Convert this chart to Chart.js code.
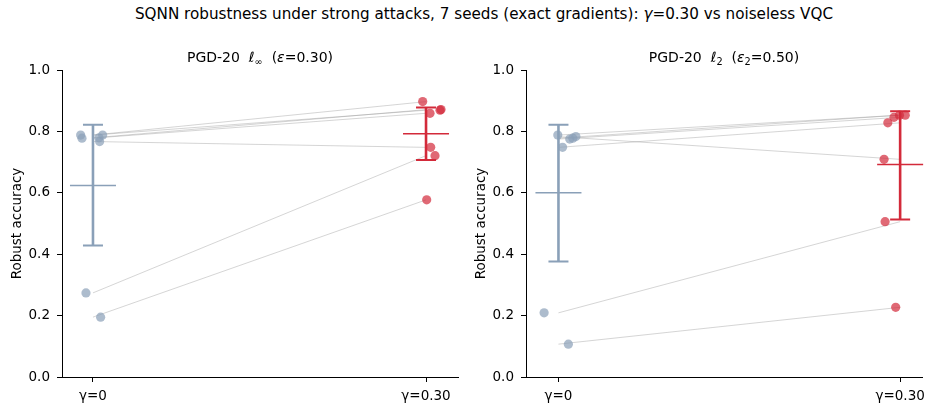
<!DOCTYPE html>
<html lang="en">
<head>
<meta charset="UTF-8">
<title>SQNN robustness under strong attacks</title>
<script src="https://cdn.jsdelivr.net/npm/chart.js"></script>
<style>
  body { margin: 0; background: #fff; }
  #wrap { position: relative; width: 927px; height: 403px; font-family: "DejaVu Sans", sans-serif; }
  #wrap canvas { position: absolute; left: 0; top: 0; }
  #suptitle { position: absolute; top: 5px; left: 0; width: 968px; text-align: center; font-size: 15.2px; color: #000; }
</style>
</head>
<body>
<div id="wrap">
  <div id="suptitle">SQNN robustness under strong attacks, 7 seeds (exact gradients): <i>γ</i>=0.30 vs noiseless VQC</div>
  <canvas id="chartLinf" width="927" height="403"></canvas>
  <canvas id="chartL2" width="927" height="403"></canvas>
</div>

<script>
// categories and ticks
const groupLabels = ['γ=0', 'γ=0.30'];
const yTicks = [0, 0.2, 0.4, 0.6, 0.8, 1.0];

// PGD-20 l_inf (eps=0.30): one value per seed, same seed order in both groups
const linfNoiseless = [0.788, 0.778, 0.779, 0.788, 0.767, 0.274, 0.195];
const linfNoiselessJitter = [-0.037, -0.033, 0.018, 0.029, 0.020, -0.021, 0.023];
const linfSqnn = [0.897, 0.859, 0.871, 0.869, 0.748, 0.721, 0.577];
const linfSqnnJitter = [-0.010, 0.012, 0.045, 0.042, 0.014, 0.027, 0.002];
const linfMean = [0.624, 0.792];
const linfLow = [0.428, 0.707];
const linfHigh = [0.822, 0.878];

// PGD-20 l_2 (eps2=0.50)
const l2Noiseless = [0.788, 0.748, 0.775, 0.778, 0.783, 0.209, 0.107];
const l2NoiselessJitter = [-0.002, 0.012, 0.033, 0.042, 0.051, -0.042, 0.029];
const l2Sqnn = [0.853, 0.828, 0.846, 0.853, 0.709, 0.506, 0.227];
const l2SqnnJitter = [0.015, -0.036, -0.018, -0.002, -0.047, -0.044, -0.013];
const l2Mean = [0.600, 0.692];
const l2Low = [0.376, 0.513];
const l2High = [0.822, 0.866];

const FONT = '"DejaVu Sans", sans-serif';
const BLUE = '#8aa0b8';
const RED = '#d32a3a';

// mean line + CI whiskers, drawn through the chart scales
const meanCI = {
  id: 'meanCI',
  afterDatasetsDraw(chart, args, opts) {
    const {ctx, scales: {x, y}} = chart;
    ctx.save();
    opts.mean.forEach((m, i) => {
      const px = x.getPixelForValue(i);
      const top = y.getPixelForValue(opts.high[i]);
      const bot = y.getPixelForValue(opts.low[i]);
      const pm = y.getPixelForValue(m);
      ctx.strokeStyle = opts.colors[i];
      ctx.lineWidth = 2.6;
      ctx.beginPath(); ctx.moveTo(px, top); ctx.lineTo(px, bot); ctx.stroke();
      ctx.lineWidth = 2;
      ctx.beginPath();
      ctx.moveTo(px - 10, top); ctx.lineTo(px + 10, top);
      ctx.moveTo(px - 10, bot); ctx.lineTo(px + 10, bot);
      ctx.stroke();
      ctx.lineWidth = 1.5;
      ctx.beginPath(); ctx.moveTo(px - 23, pm); ctx.lineTo(px + 23, pm); ctx.stroke();
    });
    ctx.restore();
  }
};

// axes title with italic symbols and subscripts
const mathTitle = {
  id: 'mathTitle',
  afterDraw(chart, args, opts) {
    const {ctx, chartArea} = chart;
    const size = 14;
    const fontFor = s => (s.it ? 'italic ' : '') + (s.sub ? size * 0.7 : size) + 'px ' + FONT;
    ctx.save();
    let total = 0;
    opts.parts.forEach(s => { ctx.font = fontFor(s); total += ctx.measureText(s.t).width; });
    let cx = (chartArea.left + chartArea.right) / 2 - total / 2;
    ctx.fillStyle = '#000';
    ctx.textBaseline = 'alphabetic';
    ctx.textAlign = 'left';
    opts.parts.forEach(s => {
      ctx.font = fontFor(s);
      ctx.fillText(s.t, cx, 62 + (s.sub ? 3 : 0));
      cx += ctx.measureText(s.t).width;
    });
    ctx.restore();
  }
};

function makePanel(id, noiseless, nJit, sqnn, sJit, mean, low, high, xMin, xMax, pad, titleParts) {
  const datasets = [];
  noiseless.forEach((v, i) => {
    datasets.push({
      data: [{x: 0, y: v}, {x: 1, y: sqnn[i]}],
      showLine: true,
      borderColor: 'rgba(150,150,150,0.4)',
      borderWidth: 1,
      pointRadius: 0,
      order: 3
    });
  });
  datasets.push({
    label: 'noiseless',
    data: noiseless.map((v, i) => ({x: 0 + nJit[i], y: v})),
    backgroundColor: 'rgba(138,160,184,0.7)',
    borderWidth: 0,
    pointRadius: 4.6,
    order: 2
  });
  datasets.push({
    label: 'γ=0.30',
    data: sqnn.map((v, i) => ({x: 1 + sJit[i], y: v})),
    backgroundColor: 'rgba(211,42,58,0.7)',
    borderWidth: 0,
    pointRadius: 4.6,
    order: 1
  });

  new Chart(document.getElementById(id), {
    type: 'scatter',
    data: {datasets},
    plugins: [meanCI, mathTitle],
    options: {
      responsive: false,
      animation: false,
      events: [],
      layout: {padding: pad},
      plugins: {
        legend: {display: false},
        tooltip: {enabled: false},
        meanCI: {mean, low, high, colors: [BLUE, RED]},
        mathTitle: {parts: titleParts}
      },
      scales: {
        x: {
          type: 'linear',
          min: xMin, max: xMax,
          afterBuildTicks: s => { s.ticks = [0, 1].map(v => ({value: v})); },
          afterFit: s => { s.height = 26; s.paddingLeft = 0; s.paddingRight = 0; },
          ticks: {
            callback: (v, i) => groupLabels[i],
            color: '#000', font: {family: FONT, size: 13.5}, padding: 6, maxRotation: 0
          },
          grid: {drawOnChartArea: false, drawTicks: true, tickLength: 5, color: '#000', lineWidth: 1},
          border: {display: true, color: '#000', width: 1}
        },
        y: {
          min: 0, max: 1,
          afterBuildTicks: s => { s.ticks = yTicks.map(v => ({value: v})); },
          afterFit: s => { s.width = 62; s.paddingTop = 0; s.paddingBottom = 0; },
          ticks: {
            callback: v => v.toFixed(1),
            color: '#000', font: {family: FONT, size: 13.5}, padding: 7
          },
          grid: {drawOnChartArea: false, drawTicks: true, tickLength: 5, color: '#000', lineWidth: 1},
          border: {display: true, color: '#000', width: 1},
          title: {
            display: true, text: 'Robust accuracy', color: '#000',
            font: {family: FONT, size: 13.5}, padding: {top: 9, bottom: 0}
          }
        }
      }
    }
  });
}

makePanel('chartLinf', linfNoiseless, linfNoiselessJitter, linfSqnn, linfSqnnJitter,
  linfMean, linfLow, linfHigh, -0.093, 1.096,
  {left: 0, right: 469, top: 70, bottom: 0},
  [{t: 'PGD-20  '}, {t: 'ℓ', it: true}, {t: '∞', sub: true}, {t: '  ('}, {t: 'ε', it: true}, {t: '=0.30)'}]);

makePanel('chartL2', l2Noiseless, l2NoiselessJitter, l2Sqnn, l2SqnnJitter,
  l2Mean, l2Low, l2High, -0.095, 1.064,
  {left: 464, right: 5, top: 70, bottom: 0},
  [{t: 'PGD-20  '}, {t: 'ℓ', it: true}, {t: '2', sub: true}, {t: '  ('}, {t: 'ε', it: true}, {t: '2', sub: true}, {t: '=0.50)'}]);
</script>
</body>
</html>
